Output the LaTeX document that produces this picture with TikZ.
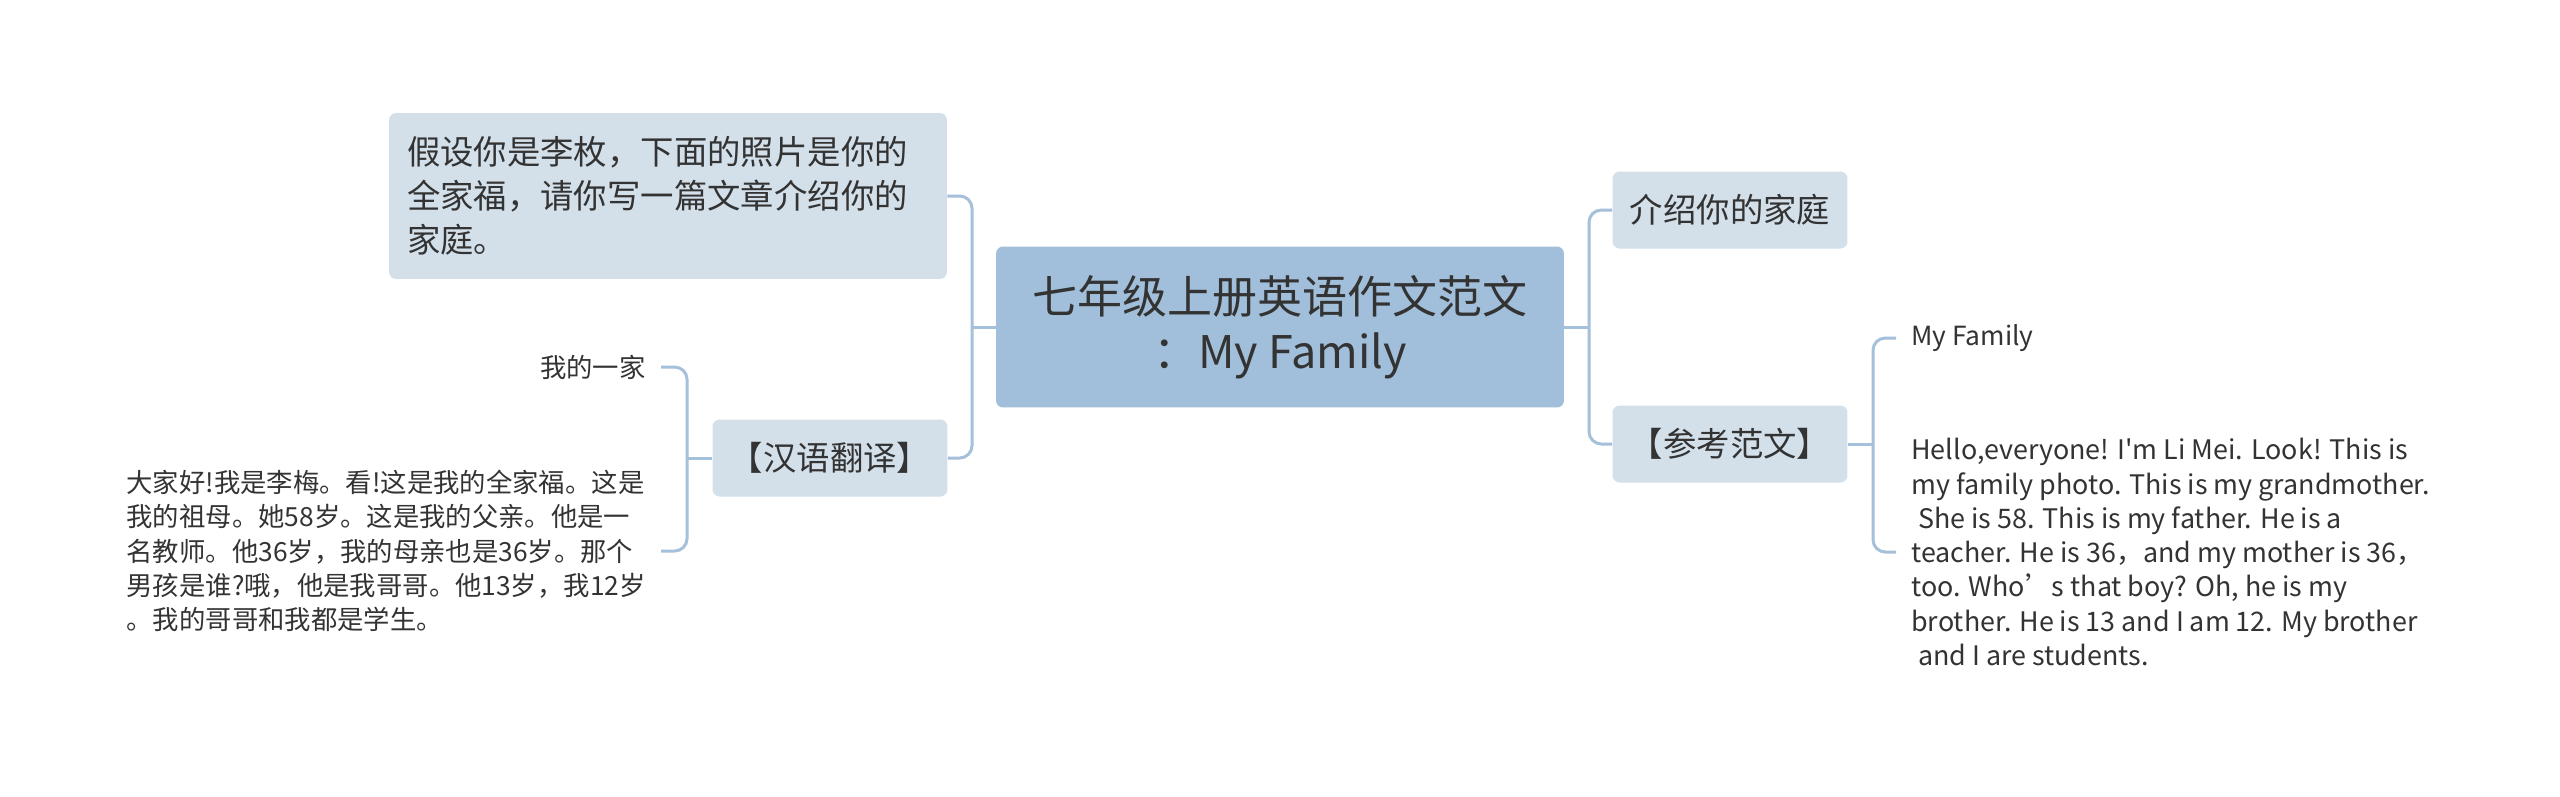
\documentclass[tikz,border=0pt]{standalone}
\usepackage{fontspec}
\setmainfont{Noto Sans CJK SC}
\newfontfamily\plainfont{Noto Sans CJK SC}
\usetikzlibrary{positioning}
\definecolor{RootBlue}{HTML}{A1BFDA}
\definecolor{SoftBlue}{HTML}{D3E0EA}
\definecolor{LinkBlue}{HTML}{A5C0DA}
\definecolor{DarkGray}{HTML}{333333}

\begin{document}
\begin{tikzpicture}[x=0.02cm, y=-0.02cm, every node/.style={text=DarkGray, inner sep=0pt},
  root/.style={fill=RootBlue, rounded corners=4pt, minimum width=11.36cm, minimum height=3.22cm, align=center, font=\fontsize{25.6}{31.6}\selectfont},
  topic/.style={fill=SoftBlue, rounded corners=4pt, minimum width=4.7cm, minimum height=1.54cm, align=center, font=\fontsize{19}{25}\selectfont},
  leaf/.style={align=left, inner xsep=0.3cm, font=\fontsize{15}{19.5}\selectfont},
  link/.style={draw=LinkBlue, line width=1.7pt, rounded corners=7pt}]
  \fill[white] (0,0) rectangle (2560,796);
  \useasboundingbox (0,0) rectangle (2560,796);

  \node[root] (root) at (1280,327) {七年级上册英语作文范文\\：My Family};
  \node[topic, minimum width=11.16cm, minimum height=3.32cm, align=left, text width=10.44cm] (task) at (668,196)
    {假设你是李枚，下面的照片是你的\\全家福，请你写一篇文章介绍你的\\家庭。};
  \node[topic] (trans) at (830,458) {【汉语翻译】};
  \node[topic] (intro) at (1730,210) {介绍你的家庭};
  \node[topic] (sample) at (1730,444) {【参考范文】};

  \node[leaf, anchor=east] (home) at (661,367) {我的一家};
  \node[leaf, anchor=east] (zhtext) at (661,551)
    {大家好!我是李梅。看!这是我的全家福。这是\\我的祖母。她58岁。这是我的父亲。他是一\\名教师。他36岁，我的母亲也是36岁。那个\\男孩是谁?哦，他是我哥哥。他13岁，我12岁\\。我的哥哥和我都是学生。};
  \node[leaf, anchor=west] (title) at (1896,338) {My Family};
  \node[leaf, anchor=west, font=\fontsize{15.3}{19.5}\selectfont] (essay) at (1896,552)
    {Hello,everyone! I{\plainfont '}m Li Mei. Look! This is\\my family photo. This is my grandmother.\\\hspace*{0.25em}She is 58. This is my father. He is a\\teacher. He is 36，and my mother is 36，\\too. Who’s that boy? Oh, he is my\\brother. He is 13 and I am 12. My brother\\\hspace*{0.25em}and I are students.};

  \coordinate (lfork) at (972,327);
  \coordinate (rfork) at (1589,327);
  \coordinate (tfork) at (687,458);
  \coordinate (sfork) at (1873,444);

  \draw[link] (root.west) -- (lfork);
  \draw[link] (task.east) -| (lfork) |- (trans.east);
  \draw[link] (root.east) -- (rfork);
  \draw[link] (intro.west) -| (rfork) |- (sample.west);
  \draw[link] (trans.west) -- (tfork);
  \draw[link] (home.east) -| (tfork) |- (zhtext.east);
  \draw[link] (sample.east) -- (sfork);
  \draw[link] (title.west) -| (sfork) |- (essay.west);
\end{tikzpicture}
\end{document}
